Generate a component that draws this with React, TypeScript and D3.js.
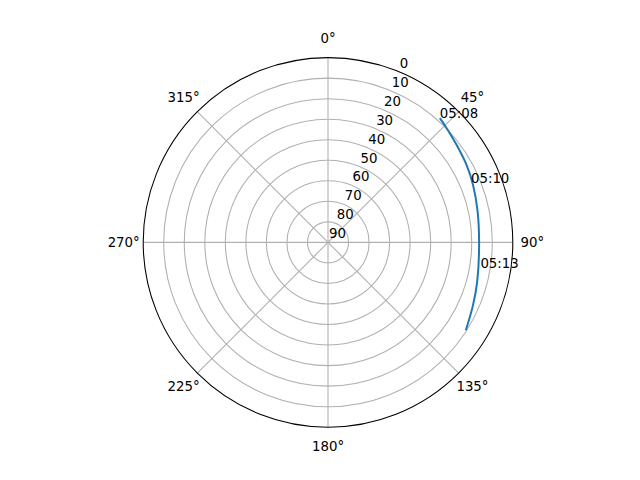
import { useEffect, useRef } from 'react';
import * as d3 from 'd3';

// satellite pass, azimuth (deg clockwise from N) and elevation (deg)
const azimuth = [42.0, 46.1, 52.8, 60.7, 68.3, 78.3, 90.9, 104.6, 113.2, 122.5];
const elevation = [8.6, 9.8, 11.4, 12.7, 14.0, 15.6, 16.4, 14.9, 13.1, 10.4];

const timeLabels = ['05:08', '05:10', '05:13'];
const labelAz = [42.0, 67.6, 99.7];
const labelEl = [8.6, 14.7, 14.7];

const angleTicks = [0, 45, 90, 135, 180, 225, 270, 315];
const radialTicks = [0, 10, 20, 30, 40, 50, 60, 70, 80, 90];

export default function App() {
  const svgRef = useRef<SVGSVGElement>(null);
  const width = 640;
  const height = 480;

  useEffect(() => {
    if (!svgRef.current) return;
    const svg = d3.select(svgRef.current);
    svg.selectAll('*').remove();

    const cx = 328;
    const cy = 242.4;
    const R = 184.8;
    const font = 'DejaVu Sans, sans-serif';

    const r = d3.scaleLinear().domain([0, 90]).range([R, 0]);
    const rad = (deg: number) => (deg * Math.PI) / 180;
    const px = (az: number, rr: number) => cx + rr * Math.sin(rad(az));
    const py = (az: number, rr: number) => cy - rr * Math.cos(rad(az));

    const g = svg.append('g');

    // rings
    g.selectAll('.ring')
      .data(radialTicks.filter(t => t !== 0))
      .enter().append('circle')
      .attr('cx', cx)
      .attr('cy', cy)
      .attr('r', d => r(d))
      .attr('fill', 'none')
      .attr('stroke', '#b0b0b0')
      .attr('stroke-width', 1.07);

    // spokes
    g.selectAll('.spoke')
      .data(angleTicks)
      .enter().append('line')
      .attr('x1', cx)
      .attr('y1', cy)
      .attr('x2', d => px(d, R))
      .attr('y2', d => py(d, R))
      .attr('stroke', '#b0b0b0')
      .attr('stroke-width', 1.07);

    // outer frame
    g.append('circle')
      .attr('cx', cx)
      .attr('cy', cy)
      .attr('r', R)
      .attr('fill', 'none')
      .attr('stroke', 'black')
      .attr('stroke-width', 1.07);

    // angle labels
    g.selectAll('.alabel')
      .data(angleTicks)
      .enter().append('text')
      .attr('x', d => px(d, R + 19.5))
      .attr('y', d => py(d, R + 19.5))
      .attr('text-anchor', 'middle')
      .attr('dominant-baseline', 'central')
      .attr('font-family', font)
      .attr('font-size', 13.33)
      .text(d => `${d}°`);

    // radial labels at 22.5°
    g.selectAll('.rlabel')
      .data(radialTicks)
      .enter().append('text')
      .attr('x', d => px(22.5, r(d)) + 1)
      .attr('y', d => py(22.5, r(d)) - 4)
      .attr('font-family', font)
      .attr('font-size', 13.33)
      .text(d => d);

    // track
    const pts = azimuth.map((a, i) => [a, elevation[i]] as [number, number]);
    const line = d3.lineRadial<[number, number]>()
      .angle(d => rad(d[0]))
      .radius(d => r(d[1]))
      .curve(d3.curveCatmullRom);

    g.append('path')
      .attr('transform', `translate(${cx},${cy})`)
      .attr('d', line(pts))
      .attr('fill', 'none')
      .attr('stroke', '#1f77b4')
      .attr('stroke-width', 2);

    // time annotations
    g.selectAll('.tlabel')
      .data(timeLabels)
      .enter().append('text')
      .attr('x', (_, i) => px(labelAz[i], r(labelEl[i])))
      .attr('y', (_, i) => py(labelAz[i], r(labelEl[i])))
      .attr('font-family', font)
      .attr('font-size', 13.33)
      .text(d => d);
  }, []);

  return (
    <svg
      ref={svgRef}
      width={width}
      height={height}
      style={{ position: 'absolute', left: 0, top: 0, background: 'white' }}
    />
  );
}
